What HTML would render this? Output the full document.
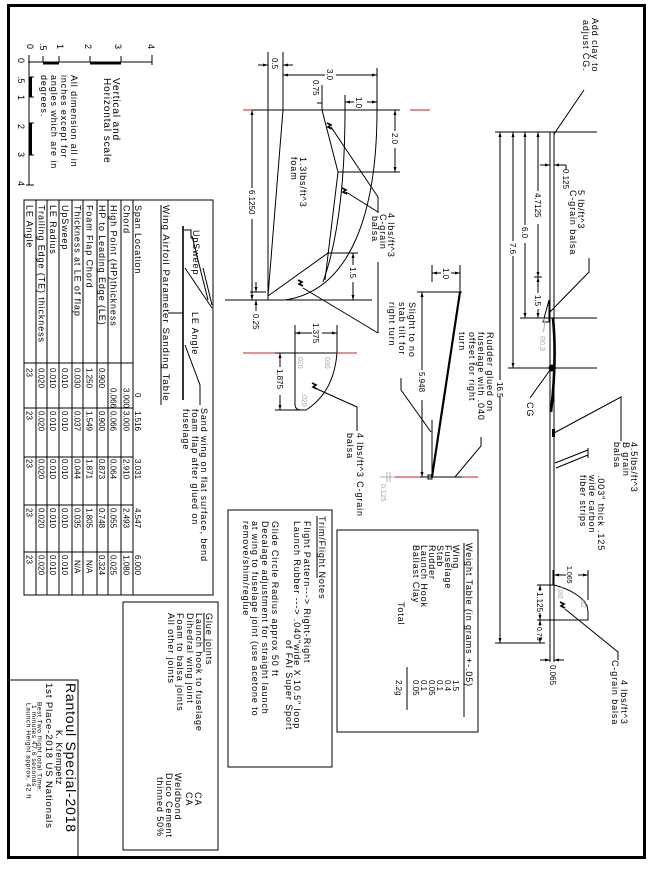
<!DOCTYPE html>
<html><head><meta charset="utf-8">
<style>
html,body{margin:0;padding:0;background:#fff;}
svg{display:block;}
text{font-family:"Liberation Sans",sans-serif;fill:#000;}
.a{font-size:9px;letter-spacing:0.9px;}
.b{font-size:10px;letter-spacing:0.9px;}
.n{font-size:8px;}
.s{font-size:7px;}
.g{fill:#a8a8a8;}
</style></head><body>
<svg width="650" height="869" viewBox="0 0 650 869" xmlns="http://www.w3.org/2000/svg">
<defs>
<marker id="a" viewBox="0 0 10 10" refX="10" refY="5" markerWidth="5" markerHeight="5" orient="auto"><path d="M0,2 L10,5 L0,8 z" fill="#000"/></marker>
</defs>
<rect width="650" height="869" fill="#fff"/>
<rect x="8.5" y="5.5" width="636" height="852" fill="none" stroke="#000" stroke-width="3"/>

<!-- SCALE -->
<g stroke="#000" stroke-width="1" fill="none">
<path d="M28,62 H152 M29,62 V185"/>
<path d="M29,55 V62 M43,56 V62 M59,56 V62 M90,56 V62 M121,56 V62 M152,55 V65"/>
<path d="M29,62 H34 M29,77 H34 M29,97 H34 M29,123 H34 M29,155 H34 M26,185 H34"/>
</g>
<rect x="43" y="62" width="16" height="2.5" fill="#000"/>
<rect x="90" y="62" width="31" height="2.5" fill="#000"/>
<rect x="29" y="77" width="3" height="20" fill="#000"/>
<rect x="29" y="123" width="3" height="32" fill="#000"/>
<g font-size="9">
<text transform="translate(148,44) rotate(90)">4</text>
<text transform="translate(115,44) rotate(90)">3</text>
<text transform="translate(85,44) rotate(90)">2</text>
<text transform="translate(57,44) rotate(90)">1</text>
<text transform="translate(40,43) rotate(90)">.5</text>
<text transform="translate(27,44) rotate(90)">0</text>
<text transform="translate(18,58) rotate(90)">0</text>
<text transform="translate(18,76) rotate(90)">.5</text>
<text transform="translate(18,95) rotate(90)">1</text>
<text transform="translate(18,124) rotate(90)">2</text>
<text transform="translate(18,152) rotate(90)">3</text>
<text transform="translate(18,181) rotate(90)">4</text>
</g>
<text class="b" transform="translate(113,78) rotate(90)">Vertical and</text>
<text class="b" transform="translate(104,78) rotate(90)">Horizontal scale</text>
<text class="a" transform="translate(71,75) rotate(90)">All dimension all in</text>
<text class="a" transform="translate(61,75) rotate(90)">inches except for</text>
<text class="a" transform="translate(51,75) rotate(90)">angles which are in</text>
<text class="a" transform="translate(41,75) rotate(90)">degrees.</text>

<!-- WING TABLE -->
<g stroke="#000" stroke-width="1" fill="none">
<rect x="24" y="200" width="189" height="395"/>
<path d="M36,200V595 M47,200V595 M59,200V595 M72,200V595 M83,200V595 M97,200V595 M108,200V595 M121,200V595 M133,200V595"/>
<path d="M24,363H133 M24,408H133 M24,457H133 M24,505H133 M24,552H133"/>
<path d="M161,205 V405"/>
<path d="M183,226 V400" stroke-width="1.6"/>
<path d="M183,230 H191 V238"/>
<path d="M192,236 L208,300 M185,268 L212,308 M203,268 L212,305 M168,313 H183 M185,345 L200,385 V405"/>
</g>
<text class="a" transform="translate(163,205) rotate(90)" style="font-size:9.5px;letter-spacing:1.1px">Wing Airfoil Parameter Sanding Table</text>
<text class="a" transform="translate(193,230) rotate(90)">UpSweep</text>
<text class="a" transform="translate(192,312) rotate(90)">LE Angle</text>
<text class="a" transform="translate(201,408) rotate(90)">Sand wing on flat surface, bend</text>
<text class="a" transform="translate(192,409) rotate(90)">foam flap after glued on</text>
<text class="a" transform="translate(183,409) rotate(90)">fuselage</text>
<g class="a">
<text class="a" transform="translate(135,205) rotate(90)">Span Location</text>
<text class="a" transform="translate(123.5,205) rotate(90)">Chord</text>
<text class="a" transform="translate(110.5,205) rotate(90)">High Point (HP)thickness</text>
<text class="a" transform="translate(99,205) rotate(90)">HP to Leading Edge (LE)</text>
<text class="a" transform="translate(86.5,205) rotate(90)">Foam Flap Chord</text>
<text class="a" transform="translate(74.5,205) rotate(90)">Thickness at LE of flap</text>
<text class="a" transform="translate(62,205) rotate(90)">UpSweep</text>
<text class="a" transform="translate(50,205) rotate(90)">LE Radius</text>
<text class="a" transform="translate(38.5,205) rotate(90)">Trailing Edge (TE) thickness</text>
<text class="a" transform="translate(26.5,205) rotate(90)">LE Angle</text>
</g>
<g class="n">
<text class="n" transform="translate(135,393) rotate(90)">0</text>
<text class="n" transform="translate(135,411) rotate(90)">1.516</text>
<text class="n" transform="translate(135,459) rotate(90)">3.031</text>
<text class="n" transform="translate(135,508) rotate(90)">4.547</text>
<text class="n" transform="translate(135,555) rotate(90)">6.000</text>

<text class="n" transform="translate(123.5,388) rotate(90)">3.000</text>
<text class="n" transform="translate(123.5,411) rotate(90)">3.000</text>
<text class="n" transform="translate(123.5,459) rotate(90)">2.910</text>
<text class="n" transform="translate(123.5,508) rotate(90)">2.493</text>
<text class="n" transform="translate(123.5,555) rotate(90)">1.080</text>

<text class="n" transform="translate(110.5,388) rotate(90)">0.066</text>
<text class="n" transform="translate(110.5,411) rotate(90)">0.066</text>
<text class="n" transform="translate(110.5,459) rotate(90)">0.064</text>
<text class="n" transform="translate(110.5,508) rotate(90)">0.055</text>
<text class="n" transform="translate(110.5,555) rotate(90)">0.025</text>

<text class="n" transform="translate(99,368) rotate(90)">0.900</text>
<text class="n" transform="translate(99,411) rotate(90)">0.900</text>
<text class="n" transform="translate(99,459) rotate(90)">0.873</text>
<text class="n" transform="translate(99,508) rotate(90)">0.748</text>
<text class="n" transform="translate(99,555) rotate(90)">0.324</text>

<text class="n" transform="translate(86.5,368) rotate(90)">1.250</text>
<text class="n" transform="translate(86.5,411) rotate(90)">1.549</text>
<text class="n" transform="translate(86.5,459) rotate(90)">1.871</text>
<text class="n" transform="translate(86.5,508) rotate(90)">1.805</text>
<text class="n" transform="translate(86.5,560) rotate(90)">N/A</text>

<text class="n" transform="translate(74.5,368) rotate(90)">0.030</text>
<text class="n" transform="translate(74.5,411) rotate(90)">0.037</text>
<text class="n" transform="translate(74.5,459) rotate(90)">0.044</text>
<text class="n" transform="translate(74.5,508) rotate(90)">0.035</text>
<text class="n" transform="translate(74.5,560) rotate(90)">N/A</text>

<text class="n" transform="translate(62,368) rotate(90)">0.010</text>
<text class="n" transform="translate(62,411) rotate(90)">0.010</text>
<text class="n" transform="translate(62,459) rotate(90)">0.010</text>
<text class="n" transform="translate(62,508) rotate(90)">0.010</text>
<text class="n" transform="translate(62,555) rotate(90)">0.010</text>

<text class="n" transform="translate(50,368) rotate(90)">0.010</text>
<text class="n" transform="translate(50,411) rotate(90)">0.010</text>
<text class="n" transform="translate(50,459) rotate(90)">0.010</text>
<text class="n" transform="translate(50,508) rotate(90)">0.010</text>
<text class="n" transform="translate(50,555) rotate(90)">0.010</text>

<text class="n" transform="translate(38.5,368) rotate(90)">0.020</text>
<text class="n" transform="translate(38.5,411) rotate(90)">0.020</text>
<text class="n" transform="translate(38.5,459) rotate(90)">0.020</text>
<text class="n" transform="translate(38.5,508) rotate(90)">0.020</text>
<text class="n" transform="translate(38.5,555) rotate(90)">0.020</text>

<text class="n" transform="translate(26.5,368) rotate(90)">23</text>
<text class="n" transform="translate(26.5,411) rotate(90)">23</text>
<text class="n" transform="translate(26.5,459) rotate(90)">23</text>
<text class="n" transform="translate(26.5,508) rotate(90)">23</text>
<text class="n" transform="translate(26.5,555) rotate(90)">23</text>
</g>

<!-- WING PLANFORM -->
<g stroke="#000" stroke-width="1" fill="none">
<path d="M252,110 H400"/>
<path d="M225,300 H372"/>
<path d="M268,52 V300 M283,52 V110 M377,68 V110 M322,85 V110 M345,95 V110"/>
<path d="M283,110 L268,296"/>
<path d="M322,110 L338,172 L325,280"/>
<path d="M345,110 C345,180 338,240 323,282"/>
<path d="M377,110 C377,210 352,290 285,300"/>
<path d="M268,296 L328,253"/>
<path d="M338,172 H400 M327,253 H358"/>
<path d="M317,103 H322"/>
<path d="M250,292 H266"/>
<line x1="258" y1="65" x2="268" y2="65" marker-end="url(#a)"/>
<line x1="293" y1="65" x2="283" y2="65" marker-end="url(#a)"/>
<line x1="325" y1="75" x2="283" y2="75" marker-end="url(#a)"/>
<line x1="336" y1="75" x2="377" y2="75" marker-end="url(#a)"/>
<line x1="354" y1="102" x2="345" y2="102" marker-end="url(#a)"/>
<line x1="367" y1="102" x2="377" y2="102" marker-end="url(#a)"/>
<line x1="395" y1="131" x2="395" y2="110" marker-end="url(#a)"/>
<line x1="395" y1="148" x2="395" y2="172" marker-end="url(#a)"/>
<line x1="252" y1="188" x2="252" y2="110" marker-end="url(#a)"/>
<line x1="252" y1="219" x2="252" y2="300" marker-end="url(#a)"/>
<line x1="353" y1="265" x2="353" y2="253" marker-end="url(#a)"/>
<line x1="353" y1="282" x2="353" y2="300" marker-end="url(#a)"/>
<line x1="256" y1="282" x2="256" y2="292" marker-end="url(#a)"/>
<line x1="256" y1="311" x2="256" y2="300" marker-end="url(#a)"/>
<path d="M331,127 L378,197 M346,192 L378,212 M378,197 V213"/>
<path d="M303,288 L378,333 M378,262 V333"/>
</g>
<path d="M243,110 H252 M410,110 H430" stroke="#e04848" stroke-width="1.2"/>
<g stroke="#000" stroke-width="1.6" fill="none">
<path d="M327,123 l4,2 l-3,2 l4,2"/>
<path d="M342,188 l4,2 l-3,2 l4,2"/>
<path d="M298,280 l4,2 l-3,2 l4,2"/>
</g>
<text class="n" transform="translate(272,58) rotate(90)">0.5</text>
<text class="n" transform="translate(327,69) rotate(90)">3.0</text>
<text class="n" transform="translate(313,80) rotate(90)">0.75</text>
<text class="n" transform="translate(356,97) rotate(90)">1.0</text>
<text class="n" transform="translate(392,133) rotate(90)">2.0</text>
<text class="n" transform="translate(249,190) rotate(90)">6.1250</text>
<text class="n" transform="translate(350,267) rotate(90)">1.5</text>
<text class="n" transform="translate(253,314) rotate(90)">0.25</text>
<text class="a" transform="translate(300,157) rotate(90)">1.3lbs/ft^3</text>
<text class="a" transform="translate(291,157) rotate(90)">foam</text>
<text class="a" transform="translate(388,213) rotate(90)">4 lbs/ft^3</text>
<text class="a" transform="translate(380,214) rotate(90)">C-grain</text>
<text class="a" transform="translate(372,216) rotate(90)">balsa</text>

<!-- STAB -->
<g stroke="#000" stroke-width="1" fill="none">
<path d="M275,353 H337"/>
<path d="M295,325 V404 Q295,410 301,410 L306,410 C325,398 335,378 337,353"/>
<path d="M337,325 V353 M275,410 H300"/>
<line x1="312" y1="333" x2="295" y2="333" marker-end="url(#a)"/>
<line x1="322" y1="333" x2="337" y2="333" marker-end="url(#a)"/>
<line x1="280" y1="367" x2="280" y2="353" marker-end="url(#a)"/>
<line x1="280" y1="395" x2="280" y2="410" marker-end="url(#a)"/>
<path d="M317,389 L357,407 V431"/>
</g>
<path d="M243,353 H275 M337,353 H357" stroke="#e04848" stroke-width="1.2"/>
<path d="M312,383 l4,2 l-3,2 l4,2" stroke="#000" stroke-width="1.6" fill="none"/>
<text class="n" transform="translate(313,323) rotate(90)">1.375</text>
<text class="n" transform="translate(277,369) rotate(90)">1.875</text>
<text class="s g" transform="translate(325,355) rotate(90)">.030</text>
<text class="s g" transform="translate(298,357) rotate(90)">020</text>
<text class="s g" transform="translate(302,393) rotate(90)">.020</text>
<text class="a" transform="translate(357,433) rotate(90)">4 lbs/ft^3 C-grain</text>
<text class="a" transform="translate(347,433) rotate(90)">balsa</text>

<!-- RUDDER / STAB TILT -->
<g stroke="#000" stroke-width="1" fill="none">
<path d="M460,292 L432,477" stroke-width="2.2"/>
<path d="M432,420 V477 M417,292 H462 M432,265 V282 M460,265 V292 M420,477 H462"/>
<line x1="441" y1="273" x2="432" y2="273" marker-end="url(#a)"/>
<line x1="451" y1="273" x2="460" y2="273" marker-end="url(#a)"/>
<line x1="422" y1="370" x2="422" y2="292" marker-end="url(#a)"/>
<line x1="422" y1="400" x2="422" y2="477" marker-end="url(#a)"/>
<path d="M401,378 V390 L431,432"/>
<path d="M481,437 V446 L455,477"/>
<rect x="428" y="475" width="4" height="4"/>
</g>
<path d="M395,477 H420 M462,477 H478" stroke="#e04848" stroke-width="1.2"/>
<path d="M380,477 H395 M387,472 V482 M390,472 V482" stroke="#b0b0b0" stroke-width="1"/>
<text class="n" transform="translate(443,268) rotate(90)">1.0</text>
<text class="n" transform="translate(419,372) rotate(90)">5.948</text>
<text class="s g" transform="translate(381,484) rotate(90)">0.125</text>
<text class="a" transform="translate(409,302) rotate(90)">Slight to no</text>
<text class="a" transform="translate(399,302) rotate(90)">stab tilt for</text>
<text class="a" transform="translate(389,302) rotate(90)">right turn</text>
<text class="a" transform="translate(487,332) rotate(90)">Rudder glued on</text>
<text class="a" transform="translate(478,332) rotate(90)">fuselage with .040</text>
<text class="a" transform="translate(469,332) rotate(90)">offset for right</text>
<text class="a" transform="translate(459,332) rotate(90)">turn</text>

<!-- FUSELAGE -->
<g stroke="#000" stroke-width="1" fill="none">
<path d="M495,132 H597"/>
<path d="M550,132 V662 M554,132 V662"/>
<path d="M520,318 H597 M508,368 H597"/>
<line x1="500" y1="380" x2="500" y2="132" marker-end="url(#a)"/>
<line x1="500" y1="396" x2="500" y2="643" marker-end="url(#a)"/>
<line x1="513" y1="241" x2="513" y2="132" marker-end="url(#a)"/>
<line x1="513" y1="256" x2="513" y2="368" marker-end="url(#a)"/>
<line x1="525" y1="225" x2="525" y2="132" marker-end="url(#a)"/>
<line x1="525" y1="243" x2="525" y2="318" marker-end="url(#a)"/>
<line x1="538" y1="191" x2="538" y2="132" marker-end="url(#a)"/>
<line x1="538" y1="224" x2="538" y2="277" marker-end="url(#a)"/>
<line x1="538" y1="293" x2="538" y2="277" marker-end="url(#a)"/>
<line x1="538" y1="309" x2="538" y2="318" marker-end="url(#a)"/>
<path d="M534,277 H542"/>
<line x1="540" y1="165" x2="550" y2="165" marker-end="url(#a)"/>
<line x1="566" y1="165" x2="554" y2="165" marker-end="url(#a)"/>
<path d="M566,165 V170"/>
<path d="M584,90 L554,134"/>
<path d="M589,258 V272 L549,313"/>
<path d="M549,300 L543,322 L549,322 Z"/>
<path d="M553,318 Q557,360 551,412" stroke-width="2.6"/>
<path d="M530,398 L550,370"/>
<path d="M554,433 L621,397 V441"/>
<path d="M555,463 L588,450 M556,468 L588,455 M588,448 V458"/>
<!-- fin -->
<path d="M554,585 C570,589 583,597 587,606 Q588,609 588,613 V620 H537"/>
<path d="M537,585 H554 M588,570 V600 M553,570 V585 M495,643 H545"/>
<line x1="566" y1="575" x2="554" y2="575" marker-end="url(#a)"/>
<line x1="578" y1="575" x2="588" y2="575" marker-end="url(#a)"/>
<line x1="540" y1="591" x2="540" y2="585" marker-end="url(#a)"/>
<line x1="540" y1="613" x2="540" y2="620" marker-end="url(#a)"/>
<line x1="540" y1="626" x2="540" y2="620" marker-end="url(#a)"/>
<line x1="540" y1="638" x2="540" y2="643" marker-end="url(#a)"/>
<line x1="540" y1="660" x2="550" y2="660" marker-end="url(#a)"/>
<line x1="564" y1="660" x2="554" y2="660" marker-end="url(#a)"/>
<path d="M565,609 L618,652 V660"/>
</g>
<circle cx="552" cy="368" r="3.5" fill="#000"/>
<rect x="552" y="429" width="3" height="8" fill="#000"/>
<path d="M560,602 l4,2 l-3,2 l4,2" stroke="#000" stroke-width="1.6" fill="none"/>
<path d="M543,318 q3,6 0,14" stroke="#b0b0b0" fill="none"/>
<text class="a" transform="translate(592,18) rotate(90)">Add clay to</text>
<text class="a" transform="translate(583,20) rotate(90)">adjust CG.</text>
<text class="n" transform="translate(563,169) rotate(90)">0.125</text>
<text class="n" transform="translate(535,193) rotate(90)">4.7125</text>
<text class="n" transform="translate(522,227) rotate(90)">6.0</text>
<text class="n" transform="translate(510,243) rotate(90)">7.6</text>
<text class="n" transform="translate(497,382) rotate(90)">16.5</text>
<text class="n" transform="translate(535,295) rotate(90)">1.5</text>
<text class="a" transform="translate(578,190) rotate(90)">5 lb/ft^3</text>
<text class="a" transform="translate(570,190) rotate(90)">C-grain balsa</text>
<text class="s g" transform="translate(540,336) rotate(90)">R0.3</text>
<text class="a" transform="translate(527,402) rotate(90)">CG</text>
<text class="a" transform="translate(631,442) rotate(90)">4.5lbs/ft^3</text>
<text class="a" transform="translate(623,442) rotate(90)">B grain</text>
<text class="a" transform="translate(614,442) rotate(90)">balsa</text>
<text class="a" transform="translate(598,475) rotate(90)">.003" thick .125</text>
<text class="a" transform="translate(589,475) rotate(90)">wide carbon</text>
<text class="a" transform="translate(580,475) rotate(90)">fiber strips</text>
<text class="s" transform="translate(567,566) rotate(90)">1.065</text>
<text class="n" transform="translate(537,592) rotate(90)">1.125</text>
<text class="s" transform="translate(537,627) rotate(90)">0.75</text>
<text class="n" transform="translate(550,665) rotate(90)">0.065</text>
<text class="s g" transform="translate(558,587) rotate(90)">030</text>
<text class="s g" transform="translate(581,600) rotate(90)">02</text>
<text class="a" transform="translate(621,680) rotate(90)">4 lbs/ft^3</text>
<text class="a" transform="translate(612,660) rotate(90)">C-grain balsa</text>

<!-- WEIGHT TABLE -->
<g stroke="#000" stroke-width="1" fill="none">
<rect x="337" y="530" width="141" height="202"/>
<path d="M464,543 V717 M407,667 V710"/>
</g>
<text class="a" transform="translate(466,543) rotate(90)">Weight Table  (in grams +-.05)</text>
<text class="a" transform="translate(453,545) rotate(90)">Wing</text>
<text class="a" transform="translate(445,545) rotate(90)">Fuselage</text>
<text class="a" transform="translate(437,545) rotate(90)">Stab</text>
<text class="a" transform="translate(429,545) rotate(90)">Rudder</text>
<text class="a" transform="translate(421,545) rotate(90)">Launch Hook</text>
<text class="a" transform="translate(413,545) rotate(90)">Ballast Clay</text>
<text class="a" transform="translate(398,602) rotate(90)">Total</text>
<text class="n" transform="translate(453,680) rotate(90)">1.5</text>
<text class="n" transform="translate(445,680) rotate(90)">0.4</text>
<text class="n" transform="translate(437,680) rotate(90)">0.1</text>
<text class="n" transform="translate(429,680) rotate(90)">0.05</text>
<text class="n" transform="translate(421,680) rotate(90)">0.1</text>
<text class="n" transform="translate(413,680) rotate(90)">0.05</text>
<text class="n" transform="translate(396,680) rotate(90)">2.2g</text>

<!-- TRIM NOTES -->
<g stroke="#000" stroke-width="1" fill="none">
<rect x="228" y="510" width="104" height="257"/>
<path d="M317,516 V578"/>
</g>
<text class="a" transform="translate(319,516) rotate(90)">Trim/Flight Notes</text>
<text class="a" transform="translate(304,521) rotate(90)">Flight Pattern---&gt; Right-Right</text>
<text class="a" transform="translate(294,521) rotate(90)">Launch Rubber ---&gt; .040"wide X 10.5" loop</text>
<text class="a" transform="translate(286,640) rotate(90)">of FAI Super Sport</text>
<text class="a" transform="translate(272,521) rotate(90)">Glide Circle Radius approx 50 ft</text>
<text class="a" transform="translate(262,521) rotate(90)">Decalage adjustment for straight launch</text>
<text class="a" transform="translate(252,521) rotate(90)">at wing to fuselage joint (use acetone to</text>
<text class="a" transform="translate(243,521) rotate(90)">remove/shim/reglue</text>

<!-- GLUE JOINTS -->
<g stroke="#000" stroke-width="1" fill="none">
<rect x="123" y="602" width="95" height="248"/>
<path d="M204,613 V652"/>
</g>
<text class="a" transform="translate(206,613) rotate(90)">Glue joints</text>
<text class="a" transform="translate(196,613) rotate(90)">Launch hook to fuselage</text>
<text class="a" transform="translate(187,613) rotate(90)">Dihedral wing joint</text>
<text class="a" transform="translate(177,613) rotate(90)">Foam to balsa joints</text>
<text class="a" transform="translate(168,613) rotate(90)">All other joints</text>
<text class="a" transform="translate(195,792) rotate(90)">CA</text>
<text class="a" transform="translate(186,792) rotate(90)">CA</text>
<text class="a" transform="translate(175,773) rotate(90)">Weldbond</text>
<text class="a" transform="translate(166,773) rotate(90)">Duco Cement</text>
<text class="a" transform="translate(157,777) rotate(90)">thinned 50%</text>

<!-- TITLE BLOCK -->
<path d="M8,680 H78 V857" stroke="#000" stroke-width="1" fill="none"/>
<text transform="translate(66,683) rotate(90)" style="font-size:14px;letter-spacing:0.8px">Rantoul Special-2018</text>
<text transform="translate(56,730) rotate(90)" style="font-size:9px;letter-spacing:0.5px">K. Krempetz</text>
<text transform="translate(46,683) rotate(90)" style="font-size:9.5px;letter-spacing:0.9px">1st Place-2018 US Nationals</text>
<text transform="translate(37.5,702) rotate(90)" style="font-size:6.5px;letter-spacing:0.6px">Best Two flight total Time:</text>
<text transform="translate(32,705) rotate(90)" style="font-size:6.5px;letter-spacing:0.6px">1 minutes 47.6 seconds</text>
<text transform="translate(26.5,703) rotate(90)" style="font-size:6.5px;letter-spacing:0.6px">Launch Height approx. 42 ft</text>
</svg>
</body></html>
